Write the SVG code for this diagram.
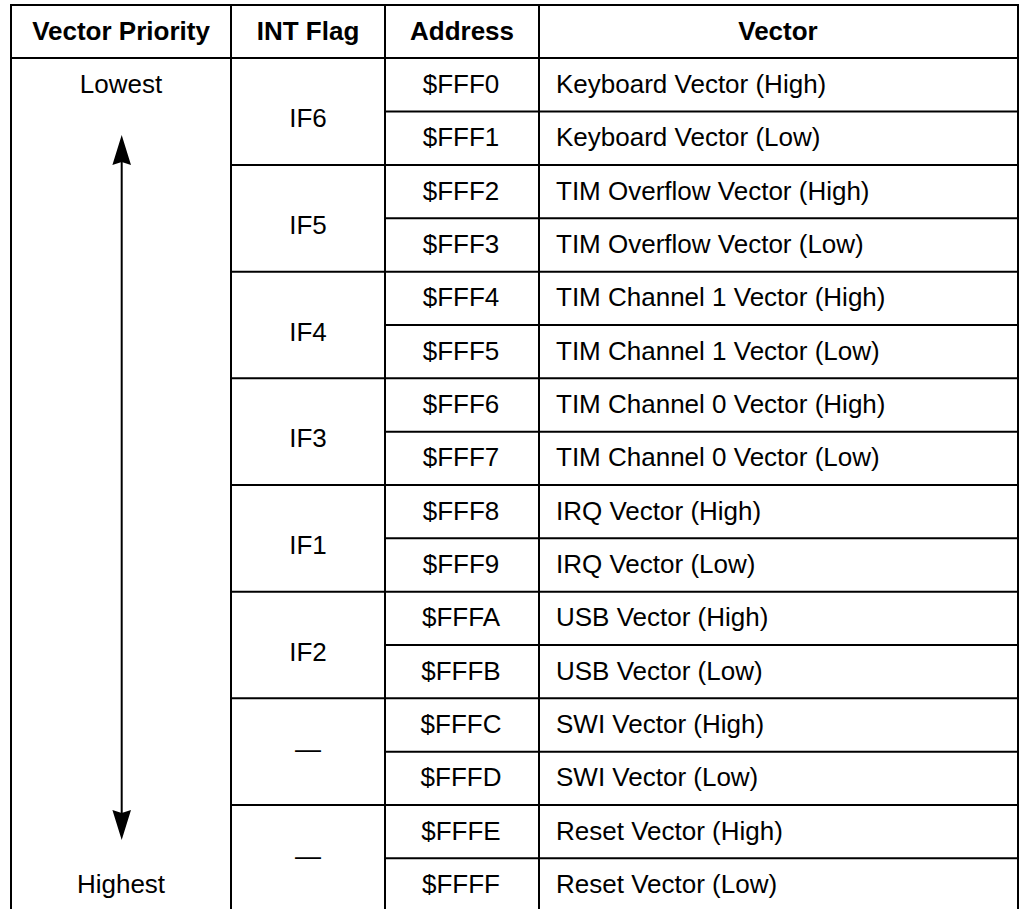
<svg xmlns="http://www.w3.org/2000/svg" width="1021" height="909" viewBox="0 0 1021 909">
<style>
  .g { stroke: #000; stroke-width: 2; fill: none; }
  .h { font-family: "Liberation Sans", Arial, sans-serif; font-size: 26px; font-weight: bold; fill: #000; text-anchor: middle; }
  .t { font-family: "Liberation Sans", Arial, sans-serif; font-size: 26px; fill: #000; }
  .c { text-anchor: middle; }
</style>
<rect width="1021" height="909" fill="#fff"/>
<g id="grid" class="g">
  <line x1="11" y1="5" x2="1018" y2="5"/>
  <line x1="11" y1="58" x2="1018" y2="58"/>
  <line x1="11" y1="4" x2="11" y2="909"/>
  <line x1="231" y1="4" x2="231" y2="909"/>
  <line x1="385" y1="4" x2="385" y2="909"/>
  <line x1="539" y1="4" x2="539" y2="909"/>
  <line x1="1018" y1="4" x2="1018" y2="909"/>
  <line x1="385" y1="111.5" x2="1018" y2="111.5"/>
  <line x1="231" y1="165" x2="1018" y2="165"/>
  <line x1="385" y1="218.3" x2="1018" y2="218.3"/>
  <line x1="231" y1="271.7" x2="1018" y2="271.7"/>
  <line x1="385" y1="325" x2="1018" y2="325"/>
  <line x1="231" y1="378.3" x2="1018" y2="378.3"/>
  <line x1="385" y1="431.7" x2="1018" y2="431.7"/>
  <line x1="231" y1="485" x2="1018" y2="485"/>
  <line x1="385" y1="538.3" x2="1018" y2="538.3"/>
  <line x1="231" y1="591.7" x2="1018" y2="591.7"/>
  <line x1="385" y1="645" x2="1018" y2="645"/>
  <line x1="231" y1="698.3" x2="1018" y2="698.3"/>
  <line x1="385" y1="751.7" x2="1018" y2="751.7"/>
  <line x1="231" y1="805" x2="1018" y2="805"/>
  <line x1="385" y1="858.3" x2="1018" y2="858.3"/>
</g>
<g id="header">
  <text class="h" x="121" y="40">Vector Priority</text>
  <text class="h" x="308" y="40">INT Flag</text>
  <text class="h" x="462" y="40">Address</text>
  <text class="h" x="778" y="40">Vector</text>
</g>
<g id="priority">
  <text class="t c" x="121" y="93">Lowest</text>
  <text class="t c" x="121" y="893">Highest</text>
</g>
<g id="connectors">
  <line x1="121.7" y1="158" x2="121.7" y2="818" stroke="#000" stroke-width="2"/>
  <path d="M121.7,135 L131,165 L121.7,162 L112.4,165 Z" fill="#000"/>
  <path d="M121.7,840 L131,810 L121.7,813 L112.4,810 Z" fill="#000"/>
</g>
<g id="flags" class="t c">
  <text class="t c" x="308" y="127">IF6</text>
  <text class="t c" x="308" y="233.8">IF5</text>
  <text class="t c" x="308" y="340.5">IF4</text>
  <text class="t c" x="308" y="447.2">IF3</text>
  <text class="t c" x="308" y="553.8">IF1</text>
  <text class="t c" x="308" y="660.5">IF2</text>
  <text class="t c" x="308" y="758.2">—</text>
  <text class="t c" x="308" y="864.8">—</text>
</g>
<g id="addresses">
  <text class="t c" x="461" y="93">$FFF0</text>
  <text class="t c" x="461" y="146.4">$FFF1</text>
  <text class="t c" x="461" y="199.7">$FFF2</text>
  <text class="t c" x="461" y="253">$FFF3</text>
  <text class="t c" x="461" y="306.4">$FFF4</text>
  <text class="t c" x="461" y="359.7">$FFF5</text>
  <text class="t c" x="461" y="413">$FFF6</text>
  <text class="t c" x="461" y="466.4">$FFF7</text>
  <text class="t c" x="461" y="519.7">$FFF8</text>
  <text class="t c" x="461" y="573">$FFF9</text>
  <text class="t c" x="461" y="626.4">$FFFA</text>
  <text class="t c" x="461" y="679.7">$FFFB</text>
  <text class="t c" x="461" y="733">$FFFC</text>
  <text class="t c" x="461" y="786.4">$FFFD</text>
  <text class="t c" x="461" y="839.7">$FFFE</text>
  <text class="t c" x="461" y="893">$FFFF</text>
</g>
<g id="vectors">
  <text class="t" x="556" y="93">Keyboard Vector (High)</text>
  <text class="t" x="556" y="146.4">Keyboard Vector (Low)</text>
  <text class="t" x="556" y="199.7">TIM Overflow Vector (High)</text>
  <text class="t" x="556" y="253">TIM Overflow Vector (Low)</text>
  <text class="t" x="556" y="306.4">TIM Channel 1 Vector (High)</text>
  <text class="t" x="556" y="359.7">TIM Channel 1 Vector (Low)</text>
  <text class="t" x="556" y="413">TIM Channel 0 Vector (High)</text>
  <text class="t" x="556" y="466.4">TIM Channel 0 Vector (Low)</text>
  <text class="t" x="556" y="519.7">IRQ Vector (High)</text>
  <text class="t" x="556" y="573">IRQ Vector (Low)</text>
  <text class="t" x="556" y="626.4">USB Vector (High)</text>
  <text class="t" x="556" y="679.7">USB Vector (Low)</text>
  <text class="t" x="556" y="733">SWI Vector (High)</text>
  <text class="t" x="556" y="786.4">SWI Vector (Low)</text>
  <text class="t" x="556" y="839.7">Reset Vector (High)</text>
  <text class="t" x="556" y="893">Reset Vector (Low)</text>
</g>
</svg>
